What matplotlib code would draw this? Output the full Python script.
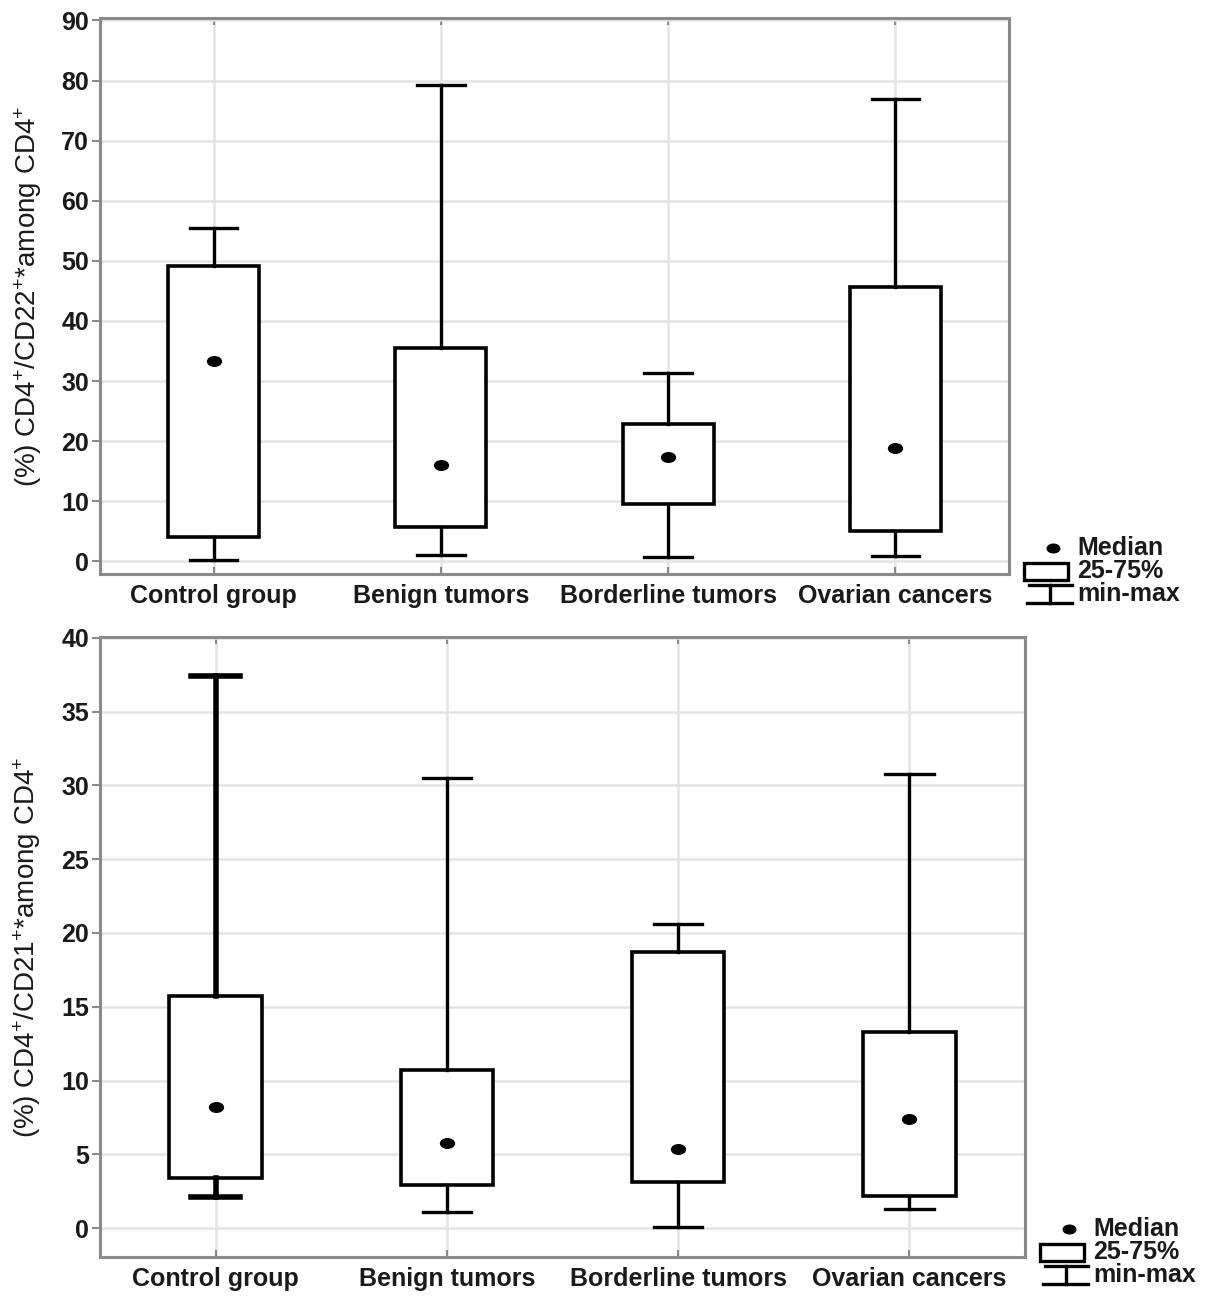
import numpy as np
import matplotlib
matplotlib.use('Agg')
import matplotlib.pyplot as plt
from matplotlib.path import Path
from matplotlib.transforms import Affine2D
from matplotlib.patches import Rectangle

#==========================================================#
# data #
#==========================================================#
groups = ['Control group', 'Benign tumors', 'Borderline tumors', 'Ovarian cancers']

# CD4+/CD22+ among CD4+
cd22_min = [0.3, 1.1, 0.7, 0.9]
cd22_q1 = [4.1, 5.7, 9.5, 5.1]
cd22_med = [33.4, 16.0, 17.4, 18.8]
cd22_q3 = [49.1, 35.5, 22.8, 45.7]
cd22_max = [55.4, 79.3, 31.4, 77.0]

# CD4+/CD21+ among CD4+
cd21_min = [2.1, 1.1, 0.1, 1.3]
cd21_q1 = [3.4, 2.9, 3.1, 2.2]
cd21_med = [8.2, 5.8, 5.4, 7.4]
cd21_q3 = [15.7, 10.7, 18.7, 13.3]
cd21_max = [37.4, 30.5, 20.6, 30.8]

legend_labels = ['Median', '25-75%', 'min-max']

#==========================================================#
W, H = 1205, 1309
plt.rcParams['font.family'] = ['Liberation Sans', 'DejaVu Sans']
plt.rcParams['mathtext.default'] = 'regular'
fig = plt.figure(figsize=(W / 100, H / 100), dpi=100)

frame_col = '#8a8a8a'
grid_col = '#e4e4e4'
txt_col = '#1a1a1a'

# slightly flattened dot for the medians
dot = Affine2D().scale(1.45, 1.0).transform_path(Path.unit_circle())


def px_axes(l, t, r, b):
    return fig.add_axes([l / W, 1 - b / H, (r - l) / W, (b - t) / H])


def draw_panel(ax, mins, q1s, meds, q3s, maxs, ylim, yticks, ylabel):
    pos = np.arange(1, len(groups) + 1)
    stats = []
    for i in range(len(groups)):
        stats.append(dict(whislo=mins[i], q1=q1s[i], med=meds[i],
                          q3=q3s[i], whishi=maxs[i], fliers=[]))
    line = dict(color='black', lw=2.4)
    art = ax.bxp(stats, positions=pos, widths=0.4, capwidths=0.21,
                 showfliers=False, patch_artist=True,
                 boxprops=dict(facecolor='white', edgecolor='black', lw=2.6),
                 whiskerprops=line, capprops=line,
                 medianprops=dict(visible=False), zorder=3)
    ax.plot(pos, meds, ls='none', marker=dot, ms=10, color='black', zorder=4)

    ax.set_xlim(0.5, 4.5)
    ax.set_ylim(*ylim)
    ax.set_yticks(yticks)
    ax.set_xticks(pos)
    ax.set_xticklabels(groups, fontsize=18, fontweight='bold', color=txt_col)
    for lab in ax.get_yticklabels():
        lab.set_fontsize(18)
        lab.set_fontweight('bold')
        lab.set_color(txt_col)
    ax.grid(True, color=grid_col, lw=1.8, zorder=0)
    ax.set_axisbelow(True)
    for s in ax.spines.values():
        s.set_color(frame_col)
        s.set_linewidth(2.2)
    ax.tick_params(axis='y', direction='out', length=6, width=1.5,
                   color=frame_col, pad=2)
    ax.tick_params(axis='x', direction='in', length=5, width=1.5,
                   color=frame_col, top=True, pad=7)
    ax.set_ylabel(ylabel, fontsize=20, color=txt_col)
    ax.yaxis.set_label_coords(-0.062, 0.5)
    return art


ax1 = px_axes(100, 18, 1009, 574)
draw_panel(ax1, cd22_min, cd22_q1, cd22_med, cd22_q3, cd22_max,
           (-2.1, 90.4), np.arange(0, 91, 10),
           r'(%) CD4$^{+}$/CD22$^{+}$*among CD4$^{+}$')

ax2 = px_axes(100, 637, 1025, 1257)
art2 = draw_panel(ax2, cd21_min, cd21_q1, cd21_med, cd21_q3, cd21_max,
                  (-1.95, 40.05), np.arange(0, 41, 5),
                  r'(%) CD4$^{+}$/CD21$^{+}$*among CD4$^{+}$')
# control group whisker is drawn heavier in the lower panel
for a in art2['whiskers'][:2] + art2['caps'][:2]:
    a.set_linewidth(4.0)

#==========================================================#
# legend keys (pixel overlay) #
#==========================================================#
leg = fig.add_axes([0, 0, 1, 1])
leg.set_xlim(0, W)
leg.set_ylim(H, 0)
leg.axis('off')


def legend_key(x0, y0):
    leg.plot([x0], [y0], ls='none', marker=dot, ms=9, color='black')
    leg.add_patch(Rectangle((x0 - 29, y0 + 15), 44, 17, facecolor='white',
                            edgecolor='black', lw=2.4))
    leg.plot([x0 - 24, x0 + 19], [y0 + 37, y0 + 37], color='black', lw=2.4)
    leg.plot([x0 - 3, x0 - 3], [y0 + 37, y0 + 55], color='black', lw=2.4)
    leg.plot([x0 - 26, x0 + 19], [y0 + 55, y0 + 55], color='black', lw=2.4)
    for k, lab in enumerate(legend_labels):
        leg.text(x0 + 24, y0 + 23 * k, lab, fontsize=18, fontweight='bold',
                 color=txt_col, va='center', ha='left')


legend_key(1053, 548)
legend_key(1069, 1229)

plt.savefig('out.png', dpi=100)
